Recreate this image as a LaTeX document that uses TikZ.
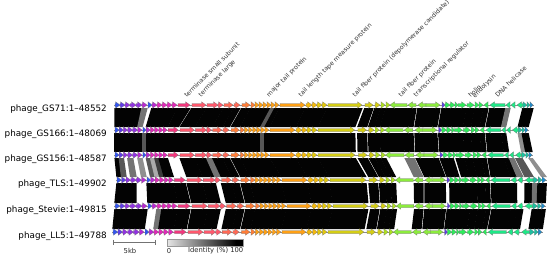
\documentclass[tikz,border=0pt]{standalone}
\usepackage{fontspec}
\setmainfont{DejaVu Sans}
\usepackage{xstring}

\definecolor{gBlue}{RGB}{51,85,238}
\definecolor{gIndigo}{RGB}{95,60,230}
\definecolor{gPurple}{RGB}{145,50,225}
\definecolor{gViolet}{RGB}{185,40,210}
\definecolor{gMagenta}{RGB}{225,40,185}
\definecolor{gPink}{RGB}{242,55,125}
\definecolor{gRed}{RGB}{255,88,108}
\definecolor{gSalmon}{RGB}{255,105,85}
\definecolor{gOrRed}{RGB}{255,125,55}
\definecolor{gOrange}{RGB}{255,160,20}
\definecolor{gAmber}{RGB}{245,185,10}
\definecolor{gGold}{RGB}{228,200,10}
\definecolor{gYellow}{RGB}{212,205,20}
\definecolor{gYelGreen}{RGB}{175,225,30}
\definecolor{gLime}{RGB}{140,236,60}
\definecolor{gGreen}{RGB}{45,236,90}
\definecolor{gSpring}{RGB}{30,232,135}
\definecolor{gTeal}{RGB}{30,190,160}
\definecolor{gCyan}{RGB}{30,140,205}

% template positions (GS71) and anchor positions of each phage
\def\tmpl{{115,192,280,328,418,492,533}}
\def\anc{{115,192,280,328,418,492,533,%
115,180,270,318,415,488,528,%
115,180,270,318,416,490,532,%
117,187,282,330,425,493,546,%
115,192,287,333,425,494,545,%
113,188,282,328,423,490,542}}

\newcommand\mapx[3]{% result, template x, phage index
  \pgfmathtruncatemacro\mseg{#2<192?0:(#2<280?1:(#2<328?2:(#2<418?3:(#2<492?4:5))))}%
  \pgfmathtruncatemacro\mia{7*#3+\mseg}%
  \pgfmathtruncatemacro\mib{\mia+1}%
  \pgfmathtruncatemacro\mic{\mseg+1}%
  \pgfmathsetmacro#1{\anc[\mia]+(#2-\tmpl[\mseg])*(\anc[\mib]-\anc[\mia])/(\tmpl[\mic]-\tmpl[\mseg])}%
}

\newcommand\drawgene[5]{% x1, x2, y, colour, direction
  \pgfmathsetmacro\gH{min(4.5,#2-#1)}%
  \ifnum#5>0 \def\gT{#2}\def\gB{#1}\else\def\gT{#1}\def\gB{#2}\fi
  \pgfmathsetmacro\gN{\gT-(#5)*\gH}%
  \filldraw[gene,fill=#4] (\gB,#3-1.5) -- (\gN,#3-1.5) -- (\gN,#3-3.3) -- (\gT,#3)
    -- (\gN,#3+3.3) -- (\gN,#3+1.5) -- (\gB,#3+1.5) -- cycle;
}

% start/end/colour/strand/shade of the five comparisons
\def\genes{115/120/gBlue/1/99999, 120/125/gIndigo/1/99699, 125/130/gPurple/1/99099,
130/136/gPurple/1/99599, 136/142/gPurple/1/99009, 142/147/gViolet/1/59409,
148/152/gBlue/1/06090, 152/157/gViolet/1/99690, 157/162/gMagenta/1/99395,
162/167/gMagenta/1/99799, 167/172/gMagenta/1/99999, 172/177/gMagenta/1/99999,
178/190/gPink/1/99099, 192/206/gRed/1/99999, 207/218/gRed/1/99999,
218/223/gRed/1/99500, 224/233/gSalmon/1/99999, 234/240/gSalmon/1/99999,
242/250/gOrRed/1/99999, 251/255/gOrRed/1/99999, 255/259/gOrange/1/99999,
259/263/gOrange/1/99999, 263/267/gOrange/1/99999, 267/271/gOrange/1/99999,
271/275/gOrange/1/66999, 275/279/gOrange/1/99999, 280/305/gOrange/1/99999,
306/312/gAmber/1/99999, 312/317/gAmber/1/99999, 317/322/gGold/1/99999,
322/327/gGold/1/99999, 328/362/gYellow/1/99999, 365/373/gYellow/1/99999,
375/380/gYellow/1/99999, 381/385/gYelGreen/1/99999, 386/390/gYelGreen/1/99999,
390/407/gLime/-1/99000, 408/416/gLime/-1/99599, 418/426/gLime/-1/99999,
426/440/gLime/1/99999, 442/445/gIndigo/1/99909, 445/450/gGreen/1/99999,
450/455/gGreen/1/99999, 455/458/gGreen/1/99099, 458/466/gGreen/1/99999,
467/474/gGreen/1/99999, 475/479/gGreen/1/99999, 479/483/gGreen/1/99999,
484/488/gGreen/-1/99999, 490/505/gSpring/-1/99999, 506/510/gSpring/-1/59999,
511/515/gSpring/-1/00509, 517/523/gSpring/-1/00690, 523/527/gTeal/1/94059,
527/530/gTeal/1/99099, 530/533/gCyan/1/99499}

\begin{document}
\begin{tikzpicture}[
    x=1pt, y=-1pt,
    gene/.style={draw=black!55, line width=0.2pt},
    band/.style={line width=0pt},
    trackline/.style={draw=black!45, line width=0.4pt},
    trackname/.style={font=\fontsize{8.8}{10}\selectfont, anchor=east, inner sep=0pt},
    genelabel/.style={font=\fontsize{6.2}{7}\selectfont, text=black!80, rotate=45,
        anchor=south west, inner sep=0.5pt},
    legendtext/.style={font=\fontsize{6.8}{8}\selectfont, text=black!85, inner sep=0pt}
]
\useasboundingbox (0,0) rectangle (550,257);

% comparison bands
\foreach \p/\up/\yu/\yl in {1/0/105/130, 2/1/130/155, 3/2/155/180, 4/3/180/206, 5/4/206/232}{
  \pgfmathtruncatemacro\lo{\up+1}
  \foreach \ga/\gb/\gc/\gd/\gs in \genes{
    \StrChar{\gs}{\p}[\sd]
    \ifnum\sd>0
      \mapx\xa{\ga-0.7}{\up}\mapx\xb{\gb+0.7}{\up}\mapx\xc{\ga-0.7}{\lo}\mapx\xd{\gb+0.7}{\lo}
      \pgfmathtruncatemacro\sh{\sd*11}
      \fill[band, fill=black!\sh] (\xa,\yu+3) -- (\xb,\yu+3)
        -- (\xd,\yl-3) -- (\xc,\yl-3) -- cycle;
    \fi
  }
}

% genomes
\foreach \t/\ty/\lab in {0/105/GS71:1–48552, 1/130/GS166:1–48069, 2/155/GS156:1–48587,
    3/180/TLS:1–49902, 4/206/Stevie:1–49815, 5/232/LL5:1–49788}{
  \pgfmathtruncatemacro\ti{7*\t}
  \pgfmathtruncatemacro\tj{7*\t+6}
  \pgfmathsetmacro\xs{\anc[\ti]}
  \pgfmathsetmacro\xe{\anc[\tj]}
  \draw[trackline] (\xs-1,\ty) -- (\xe+1,\ty);
  \foreach \ga/\gb/\gc/\gd/\gs in \genes{
    \mapx\xa{\ga}{\t}\mapx\xb{\gb}{\t}
    \drawgene{\xa}{\xb}{\ty}{\gc}{\gd}
  }
  \node[trackname] (phage\t) at (107,\ty+4) {phage\_\lab};
}

% gene annotations
\node[genelabel] (tss) at (187,99) {terminase small subunit};
\node[genelabel] (tl) at (202,99) {terminase large};
\node[genelabel] (mtp) at (270,99) {major tail protein};
\node[genelabel] (tmp) at (302,99) {tail length tape measure protein};
\node[genelabel] (tfd) at (356,99) {tail fiber protein (depolymerase candidate)};
\node[genelabel] (tf) at (402,99) {tail fiber protein};
\node[genelabel] (treg) at (417,99) {transcriptional regulator};
\node[genelabel] (hol) at (471,99) {holin};
\node[genelabel] (endo) at (476,100) {endolysin};
\node[genelabel] (hel) at (498,99) {DNA helicase};

% legend
\draw[black!55, line width=0.5pt] (113,242) -- (155,242);
\draw[black!55, line width=0.5pt] (113,239.5) -- (113,244.5);
\draw[black!55, line width=0.5pt] (155,239.5) -- (155,244.5);
\node[legendtext] (kb) at (130,251) {5kb};
\shade[left color=black!10, right color=black] (167,239) rectangle (236,246);
\fill[black] (236,239) rectangle (243,246);
\draw[black!40, line width=0.3pt] (167,239) rectangle (243,246);
\node[legendtext] (zero) at (169,251) {0};
\node[legendtext, anchor=east] (ident) at (243.5,251) {Identity (\%) 100};
\end{tikzpicture}
\end{document}
